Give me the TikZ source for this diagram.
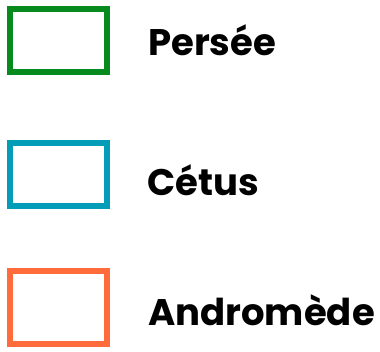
\documentclass[tikz,border=0pt]{standalone}
\usepackage{fontspec}
\setmainfont{Poppins}[BoldFont={* Bold}]
\definecolor{cgreen}{HTML}{078A1E}
\definecolor{cteal}{HTML}{049DB8}
\definecolor{corange}{HTML}{FF6B3A}
\begin{document}
\begin{tikzpicture}[x=1pt,y=-1pt,
  legbox/.style={line width=6pt},
  leglabel/.style={anchor=base west,inner sep=0pt,font=\fontsize{37}{40}\selectfont\bfseries}]
\useasboundingbox (0,0) rectangle (380,351);
\draw[legbox,cgreen] (10,9) rectangle (107,72);
\draw[legbox,cteal] (10,143) rectangle (107,206);
\draw[legbox,corange] (10,271) rectangle (107,344);
\node[leglabel] (p) at (148,55) {Persée};
\node[leglabel] (c) at (147,195) {Cétus};
\node[leglabel] (a) at (148,325) {Andromède};
\end{tikzpicture}
\end{document}
